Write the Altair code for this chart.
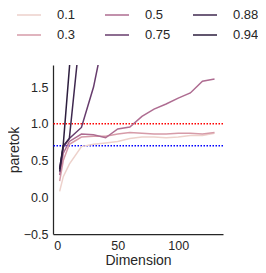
import altair as alt
import pandas as pd

# Data
dims = [2, 5, 10, 20, 30, 40, 50, 60, 70, 80, 90, 100, 110, 120, 130]
series_labels = ["0.1", "0.3", "0.5", "0.75", "0.88", "0.94"]
v_01 = [0.08, 0.28, 0.45, 0.69, 0.72, 0.74, 0.76, 0.80, 0.82, 0.82, 0.81, 0.82, 0.84, 0.84, 0.87]
v_03 = [0.22, 0.50, 0.72, 0.82, 0.83, 0.83, 0.86, 0.88, 0.87, 0.86, 0.86, 0.87, 0.87, 0.86, 0.88]
v_05 = [0.30, 0.60, 0.76, 0.86, 0.85, 0.81, 0.93, 0.955, 1.10, 1.20, 1.27, 1.35, 1.42, 1.58, 1.61]
v_075 = [0.40, 0.68, 0.80, 0.95, 1.50, 2.30]
v_088 = [0.35, 0.70, 0.80, 2.40]
v_094 = [0.38, 0.72, 1.75, 4.00]
series_values = [v_01, v_03, v_05, v_075, v_088, v_094]
series_colors = ["#edd1cb", "#d69ba8", "#ae6c91", "#673c6d", "#3f284f", "#2d1e3e"]

thresholds = [1.0, 0.7]
threshold_colors = ["#ff0000", "#0000ff"]

rows = []
for order, (lab, vals) in enumerate(zip(series_labels, series_values)):
    for d, v in zip(dims, vals):
        rows.append({"Dimension": d, "paretok": v, "series": lab, "ord": order})
df = pd.DataFrame(rows)

font = "Liberation Sans"
txt = "#262626"

x_scale = alt.Scale(domain=[-3.5, 137], nice=False, zero=False)
y_scale = alt.Scale(domain=[-0.5, 1.8], nice=False, zero=False)

lines = alt.Chart(df).mark_line(strokeWidth=1.5, clip=True).encode(
    x=alt.X("Dimension:Q", scale=x_scale,
            axis=alt.Axis(values=[0, 50, 100], title="Dimension")),
    y=alt.Y("paretok:Q", scale=y_scale,
            axis=alt.Axis(values=[-0.5, 0, 0.5, 1.0, 1.5], format=".1f", title="paretok")),
    color=alt.Color("series:N",
                    scale=alt.Scale(domain=series_labels, range=series_colors),
                    legend=alt.Legend(title=None, orient="none", legendX=-37, legendY=-63,
                                      columns=3, gridAlign="all",
                                      symbolType="stroke", symbolSize=576,
                                      symbolStrokeWidth=1.5, labelOffset=15,
                                      columnPadding=19, rowPadding=0,
                                      labelFontSize=13, labelFont=font, labelColor=txt)),
    detail="series:N",
    order="ord:Q",
)

rules_df = pd.DataFrame({"y": thresholds, "c": threshold_colors})
rules = alt.Chart(rules_df).mark_rule(strokeWidth=1.5, strokeDash=[1.5, 1.5]).encode(
    y=alt.Y("y:Q", scale=y_scale),
    color=alt.Color("c:N", scale=None),
)

chart = alt.layer(rules, lines).properties(
    width=170, height=169,
    autosize=alt.AutoSizeParams(type="none"),
    padding={"left": 45, "top": 57, "right": 35, "bottom": 38},
).configure_view(stroke=None).configure_axis(
    grid=False, ticks=False, domainColor=txt, domainWidth=1.25,
    labelFont=font, labelFontSize=12.5, labelColor=txt, labelPadding=5,
    titleFont=font, titleFontSize=14, titleFontWeight="normal", titleColor=txt,
).configure_axisX(titlePadding=2).configure_axisY(titlePadding=2)

chart.save("out.html", embed_options={"renderer": "svg", "actions": False})
